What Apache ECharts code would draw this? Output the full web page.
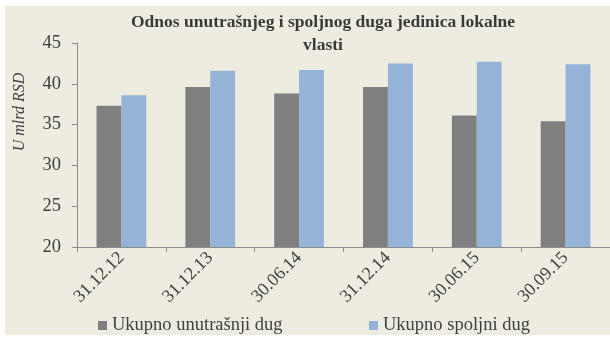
<!DOCTYPE html>
<html>
<head>
<meta charset="utf-8">
<script src="https://cdn.jsdelivr.net/npm/echarts@6/dist/echarts.min.js"></script>
<style>
  html, body { margin: 0; padding: 0; background: #ffffff; }
  #wrap { position: relative; width: 610px; height: 337px; overflow: hidden; }
  #panel { position: absolute; left: 5px; top: 6px; right: 0; bottom: 2px; background: #eeece1; }
  #chart { position: absolute; left: 0; top: 0; width: 610px; height: 337px; }
</style>
</head>
<body>
<div id="wrap">
  <div id="panel"></div>
  <div id="chart"></div>
</div>
<script>
// Period end dates
const categories = ['31.12.12', '31.12.13', '30.06.14', '31.12.14', '30.06.15', '30.09.15'];
// Debt of local government units, billions of RSD
const domesticDebt = [37.3, 39.6, 38.8, 39.6, 36.1, 35.4];
const foreignDebt = [38.6, 41.6, 41.7, 42.5, 42.7, 42.4];
const yTicks = [20, 25, 30, 35, 40, 45];

const seriesNames = ['Ukupno unutrašnji dug', 'Ukupno spoljni dug'];
const colors = ['#7f7f7f', '#95b3d7'];
const textColor = '#404040';
const serif = '"Liberation Serif", "Times New Roman", serif';

const chart = echarts.init(document.getElementById('chart'), null, { renderer: 'canvas' });

chart.setOption({
  backgroundColor: 'transparent',
  animation: false,
  color: colors,
  title: {
    text: 'Odnos unutrašnjeg i spoljnog duga jedinica lokalne\nvlasti',
    left: 318,
    top: 6,
    textAlign: 'center',
    textStyle: {
      fontFamily: serif,
      fontWeight: 'bold',
      fontSize: 17.5,
      lineHeight: 23,
      color: '#3a3a3a'
    }
  },
  legend: [
    {
      data: [seriesNames[0]],
      left: 98, top: 316, padding: 0,
      itemWidth: 9, itemHeight: 9, itemGap: 0,
      icon: 'rect',
      textStyle: { fontFamily: serif, fontSize: 18.5, color: textColor }
    },
    {
      data: [seriesNames[1]],
      left: 369, top: 316, padding: 0,
      itemWidth: 9, itemHeight: 9, itemGap: 0,
      icon: 'rect',
      textStyle: { fontFamily: serif, fontSize: 18.5, color: textColor }
    }
  ],
  grid: { left: 77, right: -1, top: 43, bottom: 90, containLabel: false },
  xAxis: {
    type: 'category',
    data: categories,
    boundaryGap: true,
    axisLine: { show: true, lineStyle: { color: '#8c8c8c', width: 1 } },
    axisTick: { show: true, length: 5, lineStyle: { color: '#8c8c8c' } },
    axisLabel: {
      rotate: 45,
      margin: 8,
      fontFamily: serif,
      fontSize: 18,
      color: textColor
    }
  },
  yAxis: {
    type: 'value',
    min: yTicks[0],
    max: yTicks[yTicks.length - 1],
    interval: 5,
    splitLine: { show: false },
    axisLine: { show: true, lineStyle: { color: '#8c8c8c', width: 1 } },
    axisTick: { show: true, length: 5, lineStyle: { color: '#8c8c8c' } },
    axisLabel: {
      margin: 16,
      fontFamily: serif,
      fontSize: 18.5,
      color: textColor
    }
  },
  graphic: [
    {
      type: 'text',
      x: 20, y: 112,
      rotation: Math.PI / 2,
      style: {
        text: 'U mlrd RSD',
        fontFamily: serif,
        fontStyle: 'italic',
        fontSize: 16,
        fill: textColor,
        align: 'center',
        verticalAlign: 'middle'
      }
    }
  ],
  series: [
    {
      name: seriesNames[0],
      type: 'bar',
      data: domesticDebt,
      barGap: '0%',
      barCategoryGap: '44%',
      itemStyle: { color: colors[0] }
    },
    {
      name: seriesNames[1],
      type: 'bar',
      data: foreignDebt,
      barGap: '0%',
      barCategoryGap: '44%',
      itemStyle: { color: colors[1] }
    }
  ]
});
</script>
</body>
</html>
